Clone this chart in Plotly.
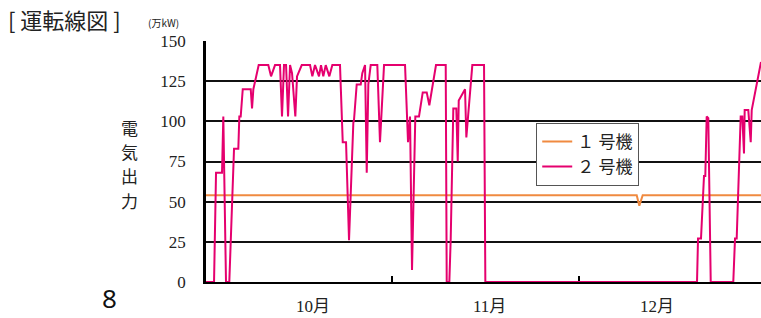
import plotly.graph_objects as go

# x = days since Oct 1 00:00 (Nov 1 = 31, Dec 1 = 61)
unit2_day = [1.14, 2.43, 2.75, 3.71, 3.92, 4.35, 4.88, 5.11, 5.64, 6.33, 6.49, 6.71, 7.04, 8.32,
             8.53, 8.74, 9.01, 9.60, 11.14, 11.58, 12.22, 13.02, 13.34, 13.66, 13.99, 14.31,
             14.63, 14.95, 15.48, 15.75, 16.51, 17.84, 18.21, 18.64, 19.28, 19.60, 19.97,
             20.36, 20.94, 21.42, 22.65, 23.09, 23.62, 24.10, 24.79, 24.90, 25.33, 25.98,
             26.23, 26.67, 26.94, 27.20, 27.58, 28.64, 29.07, 29.72, 33.09, 33.57, 33.89,
             34.21, 34.74, 35.33, 35.93, 36.57, 36.99, 38.06, 39.62, 39.78, 40.20, 40.42,
             40.84, 41.32, 41.55, 41.71, 42.72, 42.93, 43.89, 45.77, 45.98, 79.96, 80.12,
             80.60, 81.08, 81.29, 81.51, 81.77, 82.16, 85.78, 86.06, 86.33, 86.97, 87.23,
             87.50, 87.61, 88.19, 88.58, 88.74, 90.23]
unit2_mw = [0, 0, 68, 68, 103, 0, 0, 27, 83, 83, 103, 103, 120, 120,
            108, 120, 125, 135, 135, 128, 135, 135, 103, 135, 135, 103,
            135, 130, 103, 128, 135, 135, 128, 135, 128, 135, 128,
            135, 128, 135, 135, 87, 87, 26, 99, 101, 123, 123,
            130, 135, 68, 123, 135, 135, 87, 135, 135, 87, 103,
            7.5, 103, 103, 118, 118, 110, 135, 135, 0, 0, 26.5,
            108, 108, 75, 113, 120, 90, 135, 135, 0, 0, 27,
            27, 66, 66, 103, 102, 0, 0, 27, 27, 103, 103,
            80, 107, 107, 87, 107, 137]

unit1_day = [1.14, 70.28, 70.70, 71.24, 90.23]
unit1_mw = [54, 54, 47.5, 54, 54]

month_labels = ["10月", "11月", "12月"]
month_label_pos = [18.3, 46.7, 73.5]
month_boundaries = [31, 61]
y_ticks = [0, 25, 50, 75, 100, 125, 150]
y_title_chars = ["電", "気", "出", "力"]

serif = "Liberation Serif, Noto Sans CJK JP, serif"
cjk = "Noto Sans CJK JP, sans-serif"

fig = go.Figure()
fig.add_trace(go.Scatter(x=unit1_day, y=unit1_mw, mode="lines", name="１ 号機",
                         line=dict(color="#F08A40", width=2)))
fig.add_trace(go.Scatter(x=unit2_day, y=unit2_mw, mode="lines", name="２ 号機",
                         line=dict(color="#E5006E", width=2)))

fig.update_layout(
    width=761, height=318,
    margin=dict(l=206, r=0, t=41, b=36),
    paper_bgcolor="white", plot_bgcolor="white",
    showlegend=True,
    legend=dict(x=0.595, y=0.66, xanchor="left", yanchor="top",
                bgcolor="white", bordercolor="#555", borderwidth=1,
                font=dict(family=serif, size=17, color="#222"),
                traceorder="normal", tracegroupgap=0, itemwidth=30),
    title=dict(text="[\u00a0運転線図\u00a0]", x=8/761, xanchor="left", xref="container",
               y=1-21/318, yanchor="middle", yref="container",
               font=dict(family=cjk, size=22, color="#222")),
    xaxis=dict(range=[unit2_day[0], unit2_day[-1]], showgrid=False, zeroline=False,
               showline=True, linecolor="black", linewidth=2,
               tickvals=month_boundaries, ticks="inside", ticklen=6, tickcolor="black",
               tickwidth=2, showticklabels=False, layer="below traces"),
    yaxis=dict(range=[0, 150], tickvals=y_ticks, showgrid=True, gridcolor="#111",
               gridwidth=1.5, zeroline=False, showline=True, linecolor="black",
               linewidth=2.5, ticks="outside", ticklen=0, ticklabelstandoff=14,
               tickfont=dict(family=serif, size=17, color="#222"),
               layer="below traces"),
)

for lab, pos in zip(month_labels, month_label_pos):
    fig.add_annotation(x=pos, y=-0.0996, xref="x", yref="paper", text=lab,
                       showarrow=False, xanchor="center", yanchor="middle",
                       font=dict(family=serif, size=17, color="#222"))

fig.add_annotation(x=-0.0757, y=1.0788, xref="paper", yref="paper", text="(万kW)",
                   showarrow=False, xanchor="center", yanchor="middle",
                   font=dict(family=cjk, size=10, color="#222"))

# vertical axis title, one character per line (about 24 px apart)
for i, ch in enumerate(y_title_chars):
    fig.add_annotation(x=-0.137, y=0.643 - i * 0.101, xref="paper", yref="paper",
                       text=ch, showarrow=False, xanchor="center", yanchor="middle",
                       font=dict(family=cjk, size=17, color="#222"))

fig.add_annotation(x=-0.173, y=-0.066, xref="paper", yref="paper", text="8",
                   showarrow=False, xanchor="center", yanchor="middle",
                   font=dict(family="Noto Sans, sans-serif", size=26, color="#111"))

fig.write_html("out.html", config={"displayModeBar": False},
               post_script="document.body.style.margin='0';")
